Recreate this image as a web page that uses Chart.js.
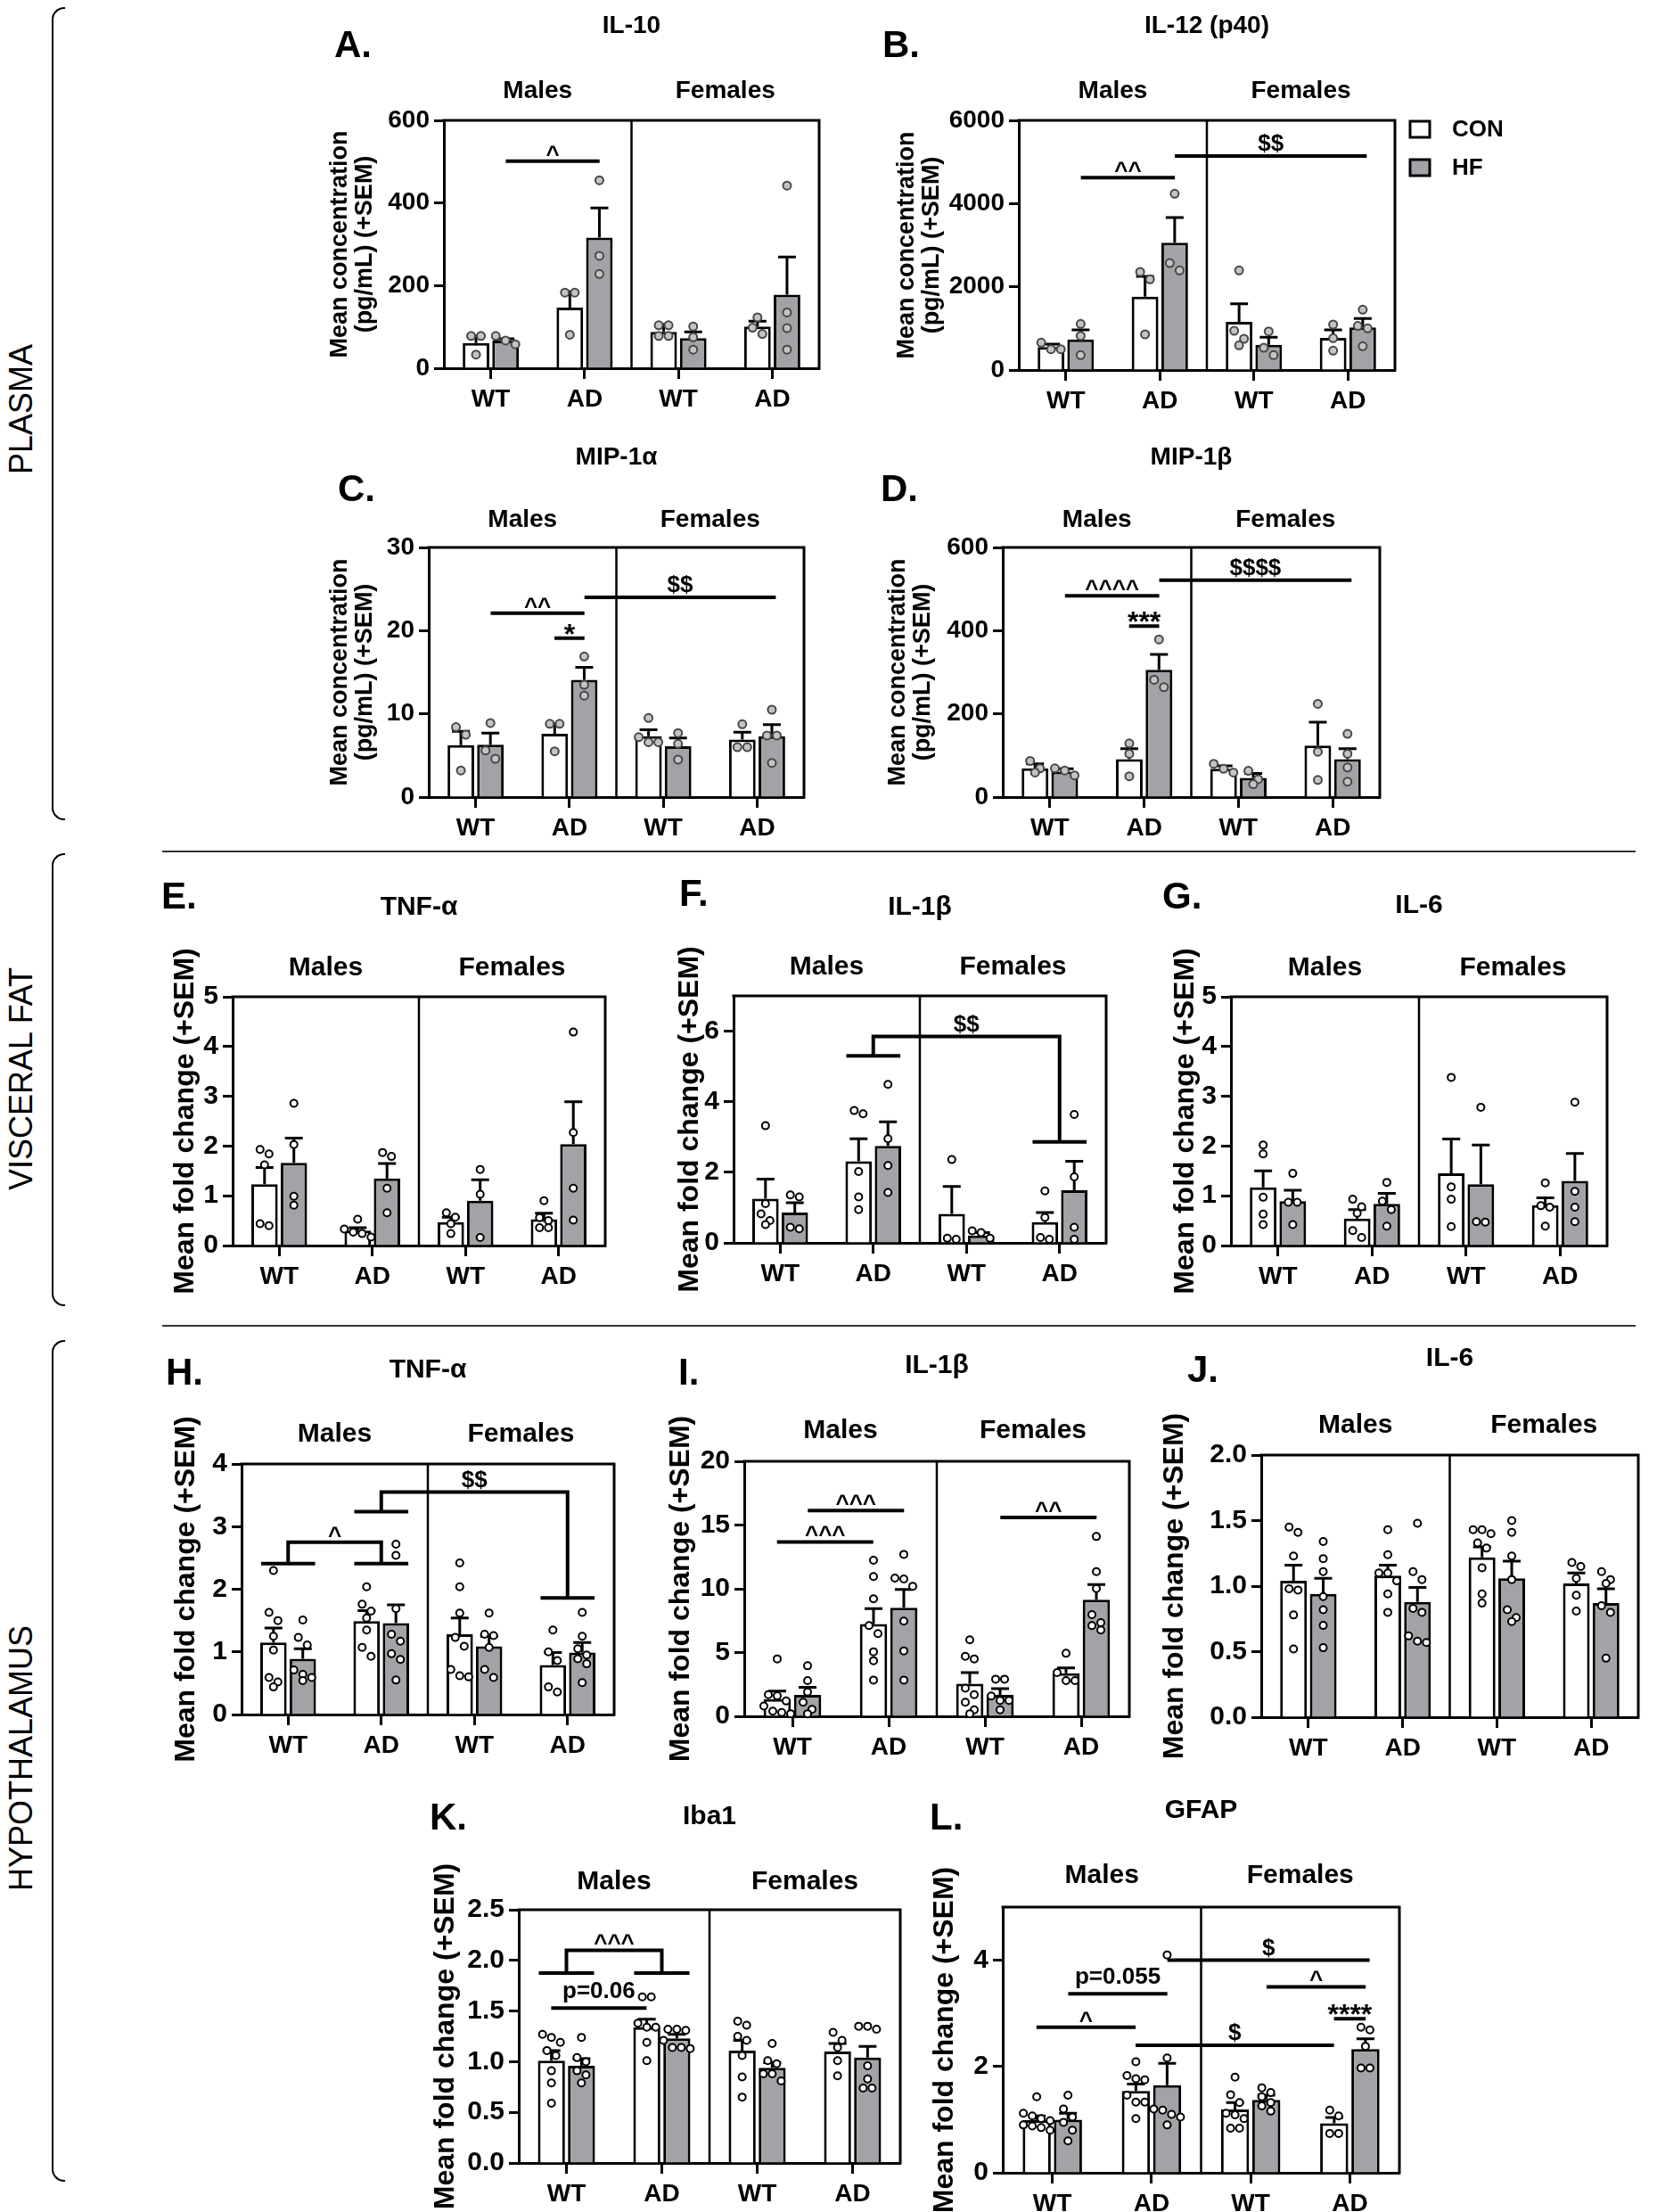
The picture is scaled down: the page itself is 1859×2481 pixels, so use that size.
<!DOCTYPE html>
<html>
<head>
<meta charset="utf-8">
<script src="https://cdn.jsdelivr.net/npm/chart.js@4.4.1/dist/chart.umd.min.js"></script>
<style>
  body { margin: 0; background: #fff; }
  #page { position: relative; width: 1859px; height: 2481px; overflow: hidden; background: #fff;
          font-family: "Liberation Sans", Arial, sans-serif; }
  #page canvas { position: absolute; }
  .sec { position: absolute; font-size: 36px; white-space: nowrap; color: #000;
         transform: translate(-50%, -50%) rotate(-90deg); }
  .brk { position: absolute; border: 2px solid #000; border-right: none; border-radius: 14px 0 0 14px; }
  .rule { position: absolute; height: 0; border-top: 2px solid #333; }
</style>
</head>
<body>
<div id="page">
  <div class="brk" style="left:58px; top:8px; width:13px; height:908px"></div>
  <div class="sec" style="left:24px; top:459px">PLASMA</div>
  <div class="rule" style="left:182px; top:954px; width:1653px"></div>
  <div class="brk" style="left:58px; top:957px; width:13px; height:504px"></div>
  <div class="sec" style="left:24px; top:1210px">VISCERAL FAT</div>
  <div class="rule" style="left:182px; top:1486px; width:1653px"></div>
  <div class="brk" style="left:58px; top:1503px; width:13px; height:940px"></div>
  <div class="sec" style="left:24px; top:1972px">HYPOTHALAMUS</div>
</div>
<script>
const groups = ['WT', 'AD', 'WT', 'AD'];
const sexes = ['Males', 'Females'];
const diets = ['CON', 'HF'];

// A. IL-10, plasma (pg/mL)
const aTicks = [0, 200, 400, 600];
const aCon = [61, 147, 88, 101];
const aConSem = [17, 38, 18, 13];
const aConPts = [[78, 78, 33], [183, 183, 81], [104, 104, 78, 78], [123, 98, 83]];
const aHf = [67, 316, 73, 178];
const aHfSem = [4, 72, 15, 91];
const aHfPts = [[78, 67, 58], [455, 272, 228], [101, 75, 45], [442, 135, 97, 45]];
const aNotes = [{ x1: 0.16, x2: 1.16, y: 501, text: '^' }];

// B. IL-12 (p40), plasma
const bTicks = [0, 2000, 4000, 6000];
const bCon = [550, 1764, 1157, 771];
const bConSem = [71, 486, 436, 193];
const bConPts = [[657, 500, 500], [2357, 2179, 857], [2393, 943, 750, 593], [1093, 764, 464]];
const bHf = [736, 3057, 607, 1021];
const bHfSem = [228, 607, 179, 215];
const bHfPts = [[1107, 821, 357], [4236, 2571, 2393], [929, 536, 357], [1450, 1060, 1000, 571]];
const bNotes = [
  { x1: 0.16, x2: 1.16, y: 4621, text: '^^' },
  { x1: 1.16, x2: 3.2, y: 5143, text: '$$' }
];

// C. MIP-1a, plasma
const cTicks = [0, 10, 20, 30];
const cCon = [6.25, 7.6, 7.3, 6.9];
const cConSem = [1.65, 1.2, 0.8, 0.9];
const cConPts = [[8.4, 7.5, 3.2], [8.8, 8.8, 5.5], [9.5, 7.2, 6.6, 6.6], [8.75, 6.0, 6.0]];
const cHf = [6.3, 14.1, 6.1, 7.3];
const cHfSem = [1.4, 1.5, 1.0, 1.4];
const cHfPts = [[8.9, 5.6, 4.6], [16.9, 13.5, 12.2], [7.7, 6.4, 4.5], [10.5, 7.4, 7.4, 4.1]];
const cNotes = [
  { x1: 0.16, x2: 1.16, y: 22.1, text: '^^' },
  { x1: 0.84, x2: 1.16, y: 19.1, text: '*' },
  { x1: 1.16, x2: 3.2, y: 24.0, text: '$$' }
];

// D. MIP-1b, plasma
const dTicks = [0, 200, 400, 600];
const dCon = [69, 91, 68, 124];
const dConSem = [11, 25, 7, 56];
const dConPts = [[87, 69, 59], [129, 104, 50], [80, 68, 59], [224, 109, 41]];
const dHf = [61, 306, 46, 91];
const dHfSem = [7, 37, 11, 25];
const dHfPts = [[69, 64, 52], [379, 282, 264], [63, 43, 31], [152, 104, 71, 37]];
const dNotes = [
  { x1: 0.16, x2: 1.16, y: 484, text: '^^^^' },
  { x1: 0.84, x2: 1.16, y: 411, text: '***' },
  { x1: 1.16, x2: 3.2, y: 521, text: '$$$$' }
];

// E. TNF-a, visceral fat (fold change)
const eTicks = [0, 1, 2, 3, 4, 5];
const eCon = [1.23, 0.30, 0.47, 0.53];
const eConSem = [0.34, 0.06, 0.10, 0.12];
const eConPts = [[1.93, 1.84, 1.62, 0.40, 0.44], [0.53, 0.33, 0.27, 0.24, 0.17], [0.66, 0.57, 0.44, 0.24], [0.90, 0.56, 0.50, 0.36, 0.36]];
const eHf = [1.66, 1.35, 0.90, 2.04];
const eHfSem = [0.50, 0.30, 0.42, 0.85];
const eHfPts = [[2.86, 2.03, 0.99, 0.81], [1.87, 1.79, 1.15, 0.66], [1.53, 1.03, 0.16], [4.29, 2.27, 1.15, 0.51]];
const eNotes = [];

// F. IL-1b, visceral fat
const fTicks = [0, 2, 4, 6];
const fCon = [1.25, 2.31, 0.82, 0.59];
const fConSem = [0.56, 0.64, 0.78, 0.27];
const fConPts = [[3.32, 1.11, 0.82, 0.63, 0.52], [3.75, 3.66, 2.02, 1.30, 0.94], [2.36, 0.13, 0.10], [1.47, 0.72, 0.15, 0.10]];
const fHf = [0.86, 2.75, 0.21, 1.49];
const fHfSem = [0.28, 0.68, 0.08, 0.82];
const fHfPts = [[1.36, 1.30, 0.44, 0.40], [4.49, 2.95, 2.19, 1.43], [0.34, 0.29, 0.13], [3.64, 1.87, 0.44, 0.10]];
const fNotes = [{ left: 1, right: 3, yl: 5.3, yr: 2.86, y: 5.85, text: '$$' }];

// G. IL-6, visceral fat
const gTicks = [0, 1, 2, 3, 4, 5];
const gCon = [1.17, 0.54, 1.45, 0.81];
const gConSem = [0.33, 0.18, 0.69, 0.15];
const gConPts = [[2.02, 1.84, 0.97, 0.63, 0.42], [0.93, 0.78, 0.65, 0.30, 0.16], [3.38, 1.18, 0.93, 0.38], [1.26, 0.80, 0.77, 0.39]];
const gHf = [0.89, 0.84, 1.23, 1.30];
const gHfSem = [0.22, 0.21, 0.79, 0.55];
const gHfPts = [[1.45, 0.87, 0.87, 0.42], [1.27, 0.89, 0.72, 0.39], [2.78, 0.48, 0.47], [2.88, 1.09, 0.77, 0.48]];
const gNotes = [];

// H. TNF-a, hypothalamus
const hTicks = [0, 1, 2, 3, 4];
const hCon = [1.15, 1.49, 1.28, 0.79];
const hConSem = [0.23, 0.17, 0.26, 0.20];
const hConPts = [[2.30, 1.63, 1.50, 1.25, 1.03, 0.59, 0.52, 0.44], [2.04, 1.76, 1.65, 1.54, 1.35, 1.07, 0.93],
                 [2.42, 2.04, 1.62, 1.23, 1.09, 0.72, 0.60, 0.62], [1.35, 1.00, 0.86, 0.44, 0.36]];
const hHf = [0.89, 1.46, 1.09, 0.99];
const hHfSem = [0.16, 0.29, 0.16, 0.16];
const hHfPts = [[1.51, 1.23, 1.11, 0.71, 0.64, 0.59, 0.54], [2.72, 2.54, 1.69, 1.28, 1.17, 0.97, 0.88, 0.55],
                [1.62, 1.28, 1.26, 1.07, 0.72, 0.59], [1.63, 1.25, 1.05, 0.95, 0.89, 0.81, 0.51]];
const hNotes = [
  { left: 0, right: 1, yl: 2.41, yr: 2.41, y: 2.75, text: '^' },
  { left: 1, right: 3, yl: 3.24, yr: 1.86, y: 3.55, text: '$$' }
];

// I. IL-1b, hypothalamus
const iTicks = [0, 5, 10, 15, 20];
const iCon = [1.35, 7.23, 2.56, 3.38];
const iConSem = [0.63, 1.21, 0.87, 0.42];
const iConPts = [[4.5, 1.7, 1.6, 1.2, 0.8, 0.4, 0.3, 0.2], [12.24, 10.96, 9.21, 7.11, 6.48, 5.06, 4.36, 2.84],
                 [6.0, 4.7, 4.5, 2.2, 1.7, 1.1, 0.5, 0.2], [4.94, 3.43, 2.8, 2.8]];
const iHf = [1.68, 8.51, 1.68, 9.14];
const iHfSem = [0.60, 1.44, 0.49, 1.19];
const iHfPts = [[3.96, 2.8, 1.9, 1.1, 0.55, 0.2], [12.7, 10.84, 10.77, 10.2, 7.46, 5.13, 2.84],
                [2.91, 2.91, 1.59, 1.24, 1.24, 0.51], [14.1, 11.35, 10.02, 7.97, 7.34, 7.11, 6.76]];
const iNotes = [
  { x1: -0.16, x2: 0.84, y: 13.68, text: '^^^' },
  { x1: 0.16, x2: 1.16, y: 16.13, text: '^^^' },
  { x1: 2.16, x2: 3.16, y: 15.6, text: '^^' }
];

// J. IL-6, hypothalamus
const jTicks = [0, 0.5, 1.0, 1.5, 2.0];
const jCon = [1.04, 1.08, 1.22, 1.02];
const jConSem = [0.12, 0.08, 0.08, 0.08];
const jConPts = [[1.45, 1.41, 1.23, 0.98, 0.97, 0.78, 0.52], [1.43, 1.24, 1.10, 1.10, 1.04, 0.94, 0.80],
                 [1.43, 1.43, 1.40, 1.33, 1.29, 1.14, 0.94, 0.87], [1.18, 1.15, 1.06, 0.93, 0.81]];
const jHf = [0.94, 0.88, 1.06, 0.87];
const jHfSem = [0.12, 0.11, 0.13, 0.11];
const jHfPts = [[1.34, 1.21, 1.11, 0.92, 0.82, 0.70, 0.53], [1.48, 1.11, 1.05, 0.83, 0.80, 0.62, 0.58, 0.57],
                [1.50, 1.41, 1.23, 1.05, 0.82, 0.76, 0.73], [1.11, 1.05, 1.02, 0.85, 0.80, 0.45]];
const jNotes = [];

// K. Iba1, hypothalamus
const kTicks = [0, 0.5, 1.0, 1.5, 2.0, 2.5];
const kCon = [1.01, 1.34, 1.11, 1.10];
const kConSem = [0.10, 0.08, 0.10, 0.08];
const kConPts = [[1.27, 1.24, 1.19, 1.11, 1.06, 0.91, 0.79, 0.59], [1.64, 1.64, 1.38, 1.34, 1.34, 1.19, 1.01],
                 [1.40, 1.36, 1.25, 1.21, 1.06, 0.85, 0.65], [1.29, 1.21, 1.14, 1.01, 0.86]];
const kHf = [0.96, 1.23, 0.94, 1.04];
const kHfSem = [0.07, 0.04, 0.05, 0.11];
const kHfPts = [[1.24, 1.04, 1.00, 0.91, 0.87, 0.79], [1.32, 1.32, 1.31, 1.21, 1.14, 1.14, 1.13],
                [1.18, 1.01, 0.98, 0.88, 0.88, 0.81], [1.35, 1.35, 1.32, 0.96, 0.83, 0.74, 0.74]];
const kNotes = [
  { left: 0, right: 1, yl: 1.876, yr: 1.876, y: 2.10, text: '^^^' },
  { x1: -0.16, x2: 0.84, y: 1.53, text: 'p=0.06' }
];

// L. GFAP, hypothalamus
const lTicks = [0, 2, 4];
const lCon = [0.99, 1.54, 1.19, 0.93];
const lConSem = [0.08, 0.13, 0.13, 0.11];
const lConPts = [[1.43, 1.12, 1.07, 1.02, 0.98, 0.90, 0.88, 0.85, 0.80], [2.09, 1.83, 1.77, 1.75, 1.46, 1.33, 1.33, 1.02],
                 [1.80, 1.47, 1.32, 1.12, 1.09, 1.02, 0.84, 0.84], [1.18, 1.07, 0.74, 0.74]];
const lHf = [1.00, 1.65, 1.37, 2.33];
const lHfSem = [0.12, 0.41, 0.09, 0.19];
const lHfPts = [[1.46, 1.20, 1.05, 0.95, 0.80, 0.60], [4.1, 2.16, 1.20, 1.18, 1.10, 1.05, 0.90],
                [1.60, 1.51, 1.43, 1.32, 1.26, 1.16], [2.74, 2.69, 2.38, 1.97, 1.97]];
const lNotes = [
  { x1: 1.16, x2: 3.2, y: 4.0, text: '$' },
  { x1: 2.16, x2: 3.16, y: 3.5, text: '^' },
  { x1: 2.84, x2: 3.16, y: 2.9, text: '****' },
  { x1: 0.16, x2: 1.16, y: 3.37, text: 'p=0.055' },
  { x1: -0.16, x2: 0.84, y: 2.74, text: '^' },
  { x1: 0.84, x2: 2.84, y: 2.40, text: '$' }
];

const conc = ['Mean concentration', '(pg/mL) (+SEM)'];
const fold = ['Mean fold change (+SEM)'];

// layout of each panel on the page (plot box, labels)
const panels = [
  { key: 'A', title: 'IL-10', yTitle: conc, ticks: aTicks, con: aCon, conSem: aConSem, conPts: aConPts, hf: aHf, hfSem: aHfSem, hfPts: aHfPts, notes: aNotes,
    box: { l: 498, r: 919, t: 135, b: 413 }, letter: [375, 64], titleY: 37, headY: 110, yTitleX: [382, 410], style: 'plasma' },
  { key: 'B', title: 'IL-12 (p40)', yTitle: conc, ticks: bTicks, con: bCon, conSem: bConSem, conPts: bConPts, hf: bHf, hfSem: bHfSem, hfPts: bHfPts, notes: bNotes,
    box: { l: 1143, r: 1565, t: 135, b: 415 }, letter: [990, 64], titleY: 37, headY: 110, yTitleX: [1018, 1046], style: 'plasma',
    legend: { x: 1582, y: [136, 179] } },
  { key: 'C', title: 'MIP-1α', yTitle: conc, ticks: cTicks, con: cCon, conSem: cConSem, conPts: cConPts, hf: cHf, hfSem: cHfSem, hfPts: cHfPts, notes: cNotes,
    box: { l: 481, r: 902, t: 614, b: 894 }, letter: [379, 562], titleY: 521, headY: 591, yTitleX: [382, 410], style: 'plasma' },
  { key: 'D', title: 'MIP-1β', yTitle: conc, ticks: dTicks, con: dCon, conSem: dConSem, conPts: dConPts, hf: dHf, hfSem: dHfSem, hfPts: dHfPts, notes: dNotes,
    box: { l: 1125, r: 1548, t: 614, b: 894 }, letter: [988, 562], titleY: 521, headY: 591, yTitleX: [1008, 1036], style: 'plasma' },
  { key: 'E', title: 'TNF-α', yTitle: fold, ticks: eTicks, con: eCon, conSem: eConSem, conPts: eConPts, hf: eHf, hfSem: eHfSem, hfPts: eHfPts, notes: eNotes,
    box: { l: 261, r: 679, t: 1118, b: 1397 }, letter: [181, 1019], titleY: 1026, headY: 1094, yTitleX: [208], style: 'tissue' },
  { key: 'F', title: 'IL-1β', yTitle: fold, ticks: fTicks, yMax: 7, con: fCon, conSem: fConSem, conPts: fConPts, hf: fHf, hfSem: fHfSem, hfPts: fHfPts, notes: fNotes,
    box: { l: 823, r: 1241, t: 1117, b: 1394 }, letter: [762, 1016], titleY: 1026, headY: 1093, yTitleX: [774], style: 'tissue' },
  { key: 'G', title: 'IL-6', yTitle: fold, ticks: gTicks, con: gCon, conSem: gConSem, conPts: gConPts, hf: gHf, hfSem: gHfSem, hfPts: gHfPts, notes: gNotes,
    box: { l: 1381, r: 1803, t: 1118, b: 1397 }, letter: [1304, 1019], titleY: 1024, headY: 1094, yTitleX: [1330], style: 'tissue' },
  { key: 'H', title: 'TNF-α', yTitle: fold, ticks: hTicks, con: hCon, conSem: hConSem, conPts: hConPts, hf: hHf, hfSem: hHfSem, hfPts: hHfPts, notes: hNotes,
    box: { l: 271, r: 689, t: 1642, b: 1923 }, letter: [186, 1553], titleY: 1545, headY: 1617, yTitleX: [209], style: 'tissue' },
  { key: 'I', title: 'IL-1β', yTitle: fold, ticks: iTicks, con: iCon, conSem: iConSem, conPts: iConPts, hf: iHf, hfSem: iHfSem, hfPts: iHfPts, notes: iNotes,
    box: { l: 835, r: 1267, t: 1639, b: 1925 }, letter: [761, 1553], titleY: 1540, headY: 1613, yTitleX: [764], style: 'tissue' },
  { key: 'J', title: 'IL-6', yTitle: fold, ticks: jTicks, dec: 1, con: jCon, conSem: jConSem, conPts: jConPts, hf: jHf, hfSem: jHfSem, hfPts: jHfPts, notes: jNotes,
    box: { l: 1415, r: 1838, t: 1632, b: 1926 }, letter: [1332, 1550], titleY: 1532, headY: 1607, yTitleX: [1318], style: 'tissue' },
  { key: 'K', title: 'Iba1', yTitle: fold, ticks: kTicks, dec: 1, con: kCon, conSem: kConSem, conPts: kConPts, hf: kHf, hfSem: kHfSem, hfPts: kHfPts, notes: kNotes,
    box: { l: 582, r: 1010, t: 2142, b: 2426 }, letter: [482, 2052], titleY: 2046, headY: 2119, yTitleX: [500], style: 'tissue' },
  { key: 'L', title: 'GFAP', yTitle: fold, ticks: lTicks, yMax: 5, con: lCon, conSem: lConSem, conPts: lConPts, hf: lHf, hfSem: lHfSem, hfPts: lHfPts, notes: lNotes,
    box: { l: 1125, r: 1570, t: 2139, b: 2437 }, letter: [1043, 2052], titleY: 2039, headY: 2112, yTitleX: [1060], style: 'tissue' }
];

const STYLES = {
  plasma: { tick: 28, head: 28, title: 28, yTitle: 27, dotR: 4.5, dotFill: '#c4c4c4', dotLine: '#474747' },
  tissue: { tick: 30, head: 30, title: 30, yTitle: 32, dotR: 4, dotFill: '#ffffff', dotLine: '#000000' }
};
const FONT = '"Liberation Sans", Arial, Helvetica, sans-serif';
const font = (size, weight) => (weight || 'bold') + ' ' + size + 'px ' + FONT;
const GREY = '#a2a2a7';

Chart.defaults.font.family = FONT;
Chart.defaults.color = '#000';

// x offsets so that dots at similar heights sit side by side, centred on the bar
function spread(py, d) {
  const order = py.map((_, i) => i).sort((p, q) => py[p] - py[q]);
  const off = new Array(py.length).fill(0);
  let row = [];
  const flush = () => { row.forEach((k, j) => { off[k] = (j - (row.length - 1) / 2) * d; }); row = []; };
  order.forEach(k => {
    if (row.length && py[k] - py[row[0]] >= d) flush();
    row.push(k);
  });
  flush();
  return off;
}

const extras = {
  id: 'extras',
  afterDatasetsDraw(chart, args, o) {
    const ctx = chart.ctx, a = chart.chartArea, xs = chart.scales.x, ys = chart.scales.y;
    const st = o.st;
    const c0 = xs.getPixelForValue(0), cw = xs.getPixelForValue(1) - c0;
    const ux = u => c0 + u * cw;
    const divX = (xs.getPixelForValue(1) + xs.getPixelForValue(2)) / 2;
    const P = (x, y) => [x - o.ox, y - o.oy];
    ctx.save();
    ctx.strokeStyle = '#000';
    ctx.fillStyle = '#000';

    // box top / right and the males|females divider
    ctx.lineWidth = 3;
    ctx.beginPath();
    ctx.moveTo(a.left - 1.5, a.top); ctx.lineTo(a.right, a.top); ctx.lineTo(a.right, a.bottom + 1.5);
    ctx.stroke();
    ctx.lineWidth = 2.5;
    ctx.beginPath(); ctx.moveTo(divX, a.top); ctx.lineTo(divX, a.bottom); ctx.stroke();

    // +SEM error bars
    ctx.lineWidth = 3;
    o.sems.forEach((sem, d) => {
      chart.getDatasetMeta(d).data.forEach((bar, i) => {
        const yTop = ys.getPixelForValue(chart.data.datasets[d].data[i] + sem[i]);
        ctx.beginPath();
        ctx.moveTo(bar.x, bar.y); ctx.lineTo(bar.x, yTop);
        ctx.moveTo(bar.x - 10, yTop); ctx.lineTo(bar.x + 10, yTop);
        ctx.stroke();
      });
    });

    // individual animals
    ctx.lineWidth = 2;
    ctx.strokeStyle = st.dotLine;
    ctx.fillStyle = st.dotFill;
    o.pts.forEach((sets, d) => {
      chart.getDatasetMeta(d).data.forEach((bar, i) => {
        const py = sets[i].map(v => ys.getPixelForValue(v));
        const off = spread(py, st.dotR * 2 + 2);
        py.forEach((y, k) => {
          ctx.beginPath();
          ctx.arc(bar.x + off[k], y, st.dotR, 0, Math.PI * 2);
          ctx.fill(); ctx.stroke();
        });
      });
    });

    // significance lines and brackets
    ctx.strokeStyle = '#000';
    ctx.fillStyle = '#000';
    ctx.lineWidth = 4;
    o.notes.forEach(n => {
      let tx, ty;
      ctx.beginPath();
      if (n.left !== undefined) {
        const yl = ys.getPixelForValue(n.yl), yr = ys.getPixelForValue(n.yr), yt = ys.getPixelForValue(n.y);
        ctx.moveTo(ux(n.left - 0.29), yl); ctx.lineTo(ux(n.left + 0.29), yl);
        ctx.moveTo(ux(n.left), yl); ctx.lineTo(ux(n.left), yt); ctx.lineTo(ux(n.right), yt); ctx.lineTo(ux(n.right), yr);
        ctx.moveTo(ux(n.right - 0.29), yr); ctx.lineTo(ux(n.right + 0.29), yr);
        tx = (ux(n.left) + ux(n.right)) / 2; ty = yt;
      } else {
        const y = ys.getPixelForValue(n.y);
        ctx.moveTo(ux(n.x1), y); ctx.lineTo(ux(n.x2), y);
        tx = (ux(n.x1) + ux(n.x2)) / 2; ty = y;
      }
      ctx.stroke();
      const ch = n.text[0];
      const size = ch === '*' ? 32 : 26;
      const dy = ch === '^' ? 1 : ch === '*' ? 6 : ch === 'p' ? -11 : -6;
      ctx.font = font(size);
      ctx.textAlign = 'center';
      ctx.textBaseline = 'alphabetic';
      ctx.fillText(n.text, tx, ty + dy);
    });

    // panel letter, title, sex headers
    ctx.textBaseline = 'alphabetic';
    ctx.textAlign = 'left';
    ctx.font = font(42);
    ctx.fillText(o.key + '.', ...P(o.letter[0], o.letter[1]));
    ctx.textAlign = 'center';
    ctx.font = font(st.title);
    ctx.fillText(o.title, (a.left + a.right) / 2, P(0, o.titleY)[1]);
    ctx.font = font(st.head);
    ctx.fillText(sexes[0], (a.left + divX) / 2, P(0, o.headY)[1]);
    ctx.fillText(sexes[1], (divX + a.right) / 2, P(0, o.headY)[1]);

    // y axis title
    ctx.font = font(st.yTitle);
    ctx.textBaseline = 'middle';
    o.yTitle.forEach((line, k) => {
      ctx.save();
      ctx.translate(P(o.yTitleX[k], 0)[0], (a.top + a.bottom) / 2);
      ctx.rotate(-Math.PI / 2);
      ctx.fillText(line, 0, 0);
      ctx.restore();
    });

    // legend
    if (o.legend) {
      diets.forEach((name, d) => {
        const [lx, ly] = P(o.legend.x, o.legend.y[d]);
        ctx.fillStyle = chart.data.datasets[d].backgroundColor;
        ctx.fillRect(lx, ly, 22, 18);
        ctx.lineWidth = 3;
        ctx.strokeRect(lx, ly, 22, 18);
        ctx.fillStyle = '#000';
        ctx.font = font(26);
        ctx.textAlign = 'left';
        ctx.textBaseline = 'middle';
        ctx.fillText(name, lx + 47, ly + 10);
      });
    }
    ctx.restore();
  }
};

const page = document.getElementById('page');

panels.forEach(p => {
  const st = STYLES[p.style];
  const left = Math.min(p.letter[0], p.yTitleX[0] - 22) - 6;
  const top = Math.min(p.letter[1] - 40, p.titleY - 30) - 6;
  const right = p.box.r + (p.legend ? 150 : 14);
  const bottom = p.box.b + 72;
  const padL = p.box.l - left, padT = p.box.t - top, padR = right - p.box.r, padB = bottom - p.box.b;

  const cv = document.createElement('canvas');
  cv.width = right - left; cv.height = bottom - top;
  cv.style.left = left + 'px'; cv.style.top = top + 'px';
  cv.style.width = cv.width + 'px'; cv.style.height = cv.height + 'px';
  page.appendChild(cv);

  const tickFmt = v => p.dec ? Number(v).toFixed(p.dec) : String(v);

  new Chart(cv, {
    type: 'bar',
    data: {
      labels: groups,
      datasets: [
        { label: diets[0], data: p.con, backgroundColor: '#ffffff', borderColor: '#000', borderWidth: 3,
          categoryPercentage: 0.63, barPercentage: 0.9 },
        { label: diets[1], data: p.hf, backgroundColor: GREY, borderColor: '#000', borderWidth: 3,
          categoryPercentage: 0.63, barPercentage: 0.9 }
      ]
    },
    options: {
      responsive: false,
      animation: false,
      devicePixelRatio: 1,
      layout: { padding: { left: 0, top: padT, right: padR, bottom: 0 } },
      plugins: {
        legend: { display: false },
        tooltip: { enabled: false },
        extras: {
          st: st, ox: left, oy: top, key: p.key, title: p.title, letter: p.letter, titleY: p.titleY, headY: p.headY,
          yTitle: p.yTitle, yTitleX: p.yTitleX, legend: p.legend,
          sems: [p.conSem, p.hfSem], pts: [p.conPts, p.hfPts], notes: p.notes
        }
      },
      scales: {
        x: {
          offset: true,
          grid: { display: true, drawOnChartArea: false, drawTicks: true, tickLength: 12, tickWidth: 3, tickColor: '#000', offset: false },
          border: { display: true, color: '#000', width: 3 },
          ticks: { font: { size: 28, weight: 'bold' }, color: '#000', padding: 6, maxRotation: 0, autoSkip: false },
          afterFit: s => { s.height = padB; }
        },
        y: {
          min: 0,
          max: p.yMax || p.ticks[p.ticks.length - 1],
          grid: { display: true, drawOnChartArea: false, drawTicks: true, tickLength: 11, tickWidth: 3, tickColor: '#000' },
          border: { display: true, color: '#000', width: 3 },
          ticks: { font: { size: st.tick, weight: 'bold' }, color: '#000', padding: 5, autoSkip: false, callback: tickFmt },
          afterBuildTicks: s => { s.ticks = p.ticks.map(v => ({ value: v })); },
          afterFit: s => { s.width = padL; }
        }
      }
    },
    plugins: [extras]
  });
});
</script>
</body>
</html>
